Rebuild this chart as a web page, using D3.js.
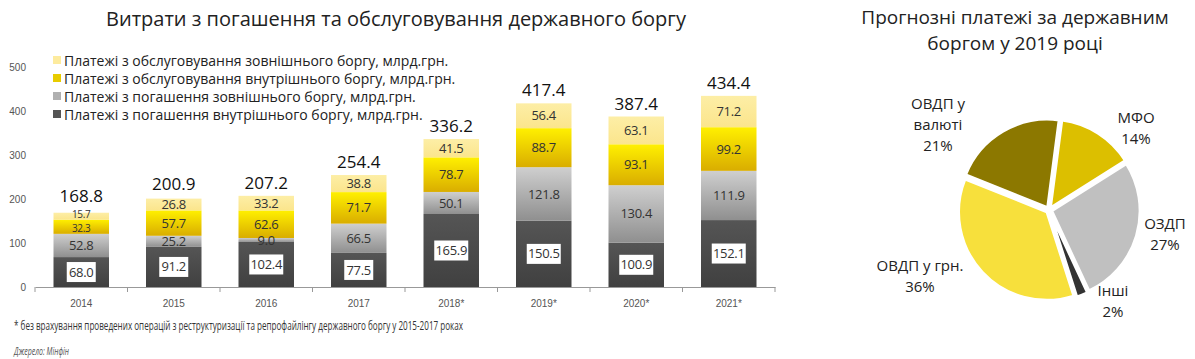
<!DOCTYPE html>
<html><head><meta charset="utf-8">
<script src="https://cdn.jsdelivr.net/npm/d3@7"></script>
<style>
body{margin:0;background:#fff;}
svg{display:block;font-family:"Open Sans","Noto Sans",sans-serif;}
</style></head>
<body>
<svg id="c" width="1195" height="359"></svg>
<script>
const years = ["2014","2015","2016","2017","2018*","2019*","2020*","2021*"];
const domRepay = [68.0,91.2,102.4,77.5,165.9,150.5,100.9,152.1];
const extRepay = [52.8,25.2,9.0,66.5,50.1,121.8,130.4,111.9];
const domService = [32.3,57.7,62.6,71.7,78.7,88.7,93.1,99.2];
const extService = [15.7,26.8,33.2,38.8,41.5,56.4,63.1,71.2];
const totals = [168.8,200.9,207.2,254.4,336.2,417.4,387.4,434.4];
const yTicks = [0,100,200,300,400,500];
const seriesNames = [
  "Платежі з погашення  внутрішнього боргу, млрд.грн.",
  "Платежі з погашення  зовнішнього боргу, млрд.грн.",
  "Платежі з обслуговування внутрішнього боргу, млрд.грн.",
  "Платежі з обслуговування зовнішнього боргу, млрд.грн."
];
const pieLabels = ["МФО","ОЗДП","Інші","ОВДП у грн.","ОВДП у валюті"];
const pieValues = [14,27,2,36,21];

const svg = d3.select("#c");
const defs = svg.append("defs");
function grad(id, c1, c2){
  const g = defs.append("linearGradient").attr("id",id).attr("x1",0).attr("y1",0).attr("x2",0).attr("y2",1);
  g.append("stop").attr("offset","0%").attr("stop-color",c1);
  g.append("stop").attr("offset","100%").attr("stop-color",c2);
}
grad("g0","#555555","#404040");
grad("g1","#cfcfcf","#8f8f8f");
grad("g2","#fff000","#d9ad00");
grad("g3","#fdeea6","#fbe58c");
const fills = ["url(#g0)","url(#g1)","url(#g2)","url(#g3)"];
const legendFills = ["#555555","#b0b0b0","#e8cc00","#fdeb9e"];

// Titles
svg.append("text").attr("x",396).attr("y",26).attr("text-anchor","middle")
  .attr("font-size",20).attr("fill","#222").text("Витрати з погашення та обслуговування державного боргу");

const x = d3.scaleBand().domain(years).range([35,775]).paddingInner(0.4).paddingOuter(0.2);
const y = d3.scaleLinear().domain([0,500]).range([287,67]);

// axes
const yAxis = svg.append("g").attr("transform","translate(26,0)")
  .call(d3.axisLeft(y).tickValues(yTicks).tickSize(0).tickPadding(0));
yAxis.select(".domain").remove();
yAxis.selectAll("text").attr("font-size",10).attr("fill","#555").attr("font-family","inherit");

const xAxis = svg.append("g").attr("transform","translate(0,287)")
  .call(d3.axisBottom(x).tickSize(0).tickPadding(13));
xAxis.select(".domain").attr("stroke","#999");
xAxis.selectAll("text").attr("font-size",10).attr("fill","#555").attr("font-family","inherit");
const step = x.step();
const bounds = d3.range(years.length+1).map(i=>35+i*step);
svg.append("g").selectAll("line").data(bounds).join("line")
  .attr("x1",d=>d).attr("x2",d=>d).attr("y1",287).attr("y2",292).attr("stroke","#999");

const data = years.map((yr,i)=>({year:yr, s0:domRepay[i], s1:extRepay[i], s2:domService[i], s3:extService[i]}));
const stack = d3.stack().keys(["s0","s1","s2","s3"])(data);

const gBars = svg.append("g");
stack.forEach((layer,k)=>{
  gBars.append("g").selectAll("rect").data(layer).join("rect")
    .attr("x",d=>x(d.data.year)).attr("width",x.bandwidth())
    .attr("y",d=>y(d[1])).attr("height",d=>y(d[0])-y(d[1]))
    .attr("fill",fills[k]);
});
// segment labels (resolve overlaps per bar, top to bottom)
const gLab = svg.append("g");
const topLabel = [];
data.forEach((row,i)=>{
  const cx = x(row.year)+x.bandwidth()/2;
  const labs = [];
  for(let k=3;k>=0;k--){
    const d = stack[k][i];
    labs.push({k, cy:(y(d[0])+y(d[1]))/2, fs:13});
  }
  for(let j=1;j<labs.length;j++){
    const gap = labs[j].cy - labs[j-1].cy;
    if(gap < 12){
      const d = 14 - gap;
      labs[j-1].cy -= d/2; labs[j].cy += d/2;
      labs[j].fs = 10; labs[j-1].fs = 10;
    }
  }
  topLabel.push(labs[0].cy - labs[0].fs*0.7);
  labs.forEach(l=>{
    const v = row["s"+l.k].toFixed(1);
    if(l.k===0){
      const w = v.length>4?34:29;
      gLab.append("rect").attr("x",cx-w/2).attr("y",l.cy-10).attr("width",w).attr("height",20).attr("fill","#fff");
    }
    gLab.append("text").attr("x",cx).attr("y",l.cy+l.fs*0.35).attr("text-anchor","middle")
      .attr("font-size",l.fs).attr("fill","#333").attr("letter-spacing","-0.3").text(v);
  });
});
// totals
svg.append("g").selectAll("text").data(years).join("text")
  .attr("x",d=>x(d)+x.bandwidth()/2).attr("y",(d,i)=>Math.min(y(totals[i])-7, topLabel[i]-5))
  .attr("text-anchor","middle").attr("font-size",17).attr("fill","#111").text((d,i)=>totals[i].toFixed(1));

// legend
const legOrder = [3,2,1,0];
const leg = svg.append("g");
legOrder.forEach((k,i)=>{
  const ly = 62 + i*18;
  leg.append("rect").attr("x",53).attr("y",ly-6).attr("width",8).attr("height",8).attr("fill",legendFills[k]);
  leg.append("text").attr("x",64).attr("y",ly+4).attr("font-size",14).attr("fill","#222").text(seriesNames[k]);
});

// footnotes
svg.append("text").attr("x",14).attr("y",330).attr("font-size",12).attr("fill","#333")
  .attr("textLength",449).attr("lengthAdjust","spacingAndGlyphs")
  .text("* без врахування проведених операцій з реструктуризації та репрофайлінгу державного боргу у 2015-2017 роках");
svg.append("text").attr("x",14).attr("y",355).attr("font-size",10).attr("font-style","italic").attr("fill","#555")
  .attr("textLength",55).attr("lengthAdjust","spacingAndGlyphs")
  .text("Джерело: Мінфін");

// Pie
svg.append("text").attr("x",1015).attr("y",24).attr("text-anchor","middle").attr("font-size",19).attr("fill","#222").text("Прогнозні платежі за державним");
svg.append("text").attr("x",1015).attr("y",50).attr("text-anchor","middle").attr("font-size",19).attr("fill","#222").text("боргом у 2019 році");

const pieColors = ["#dcbf00","#c0c0c0","#333333","#f7e03c","#8c7800"];
const pie = d3.pie().sort(null).startAngle(0.13).endAngle(0.13+2*Math.PI)(pieValues);
const arc = d3.arc().innerRadius(0).outerRadius(88);
const gp = svg.append("g").attr("transform","translate(1049,210)");
gp.selectAll("path").data(pie).join("path")
  .attr("transform",d=>{const a=(d.startAngle+d.endAngle)/2; return `translate(${Math.sin(a)*3},${-Math.cos(a)*3})`;})
  .attr("d",arc).attr("fill",(d,i)=>pieColors[i]).attr("stroke","#fff").attr("stroke-width",2.5);

const pieLab = [
  {x:1136, y:118},
  {x:1165, y:224},
  {x:1113, y:291},
  {x:920, y:266},
  {x:938, y:104}
];
pieLab.forEach((p,i)=>{
  const t = svg.append("text").attr("text-anchor","middle").attr("font-size",15).attr("fill","#222");
  const ls = i===4 ? ["ОВДП у","валюті", pieValues[i]+"%"] : [pieLabels[i], pieValues[i]+"%"];
  ls.forEach((l,j)=>t.append("tspan").attr("x",p.x).attr("y",p.y+5+j*21).text(l));
});
</script>
</body></html>
